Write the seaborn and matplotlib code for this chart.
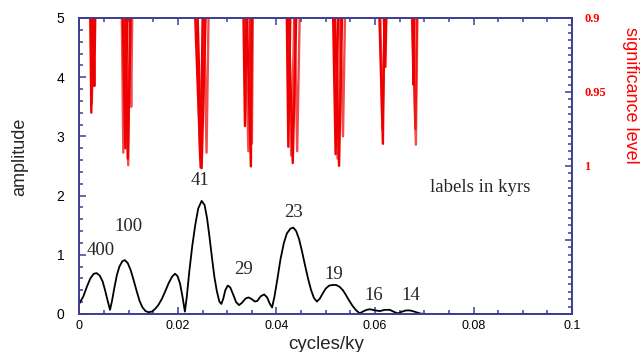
import matplotlib
matplotlib.use("Agg")
import matplotlib.pyplot as plt
from matplotlib.ticker import MultipleLocator
import pandas as pd
import seaborn as sns

# amplitude spectrum
freq = [0.0000, 0.0008, 0.0015, 0.0022, 0.0029, 0.0035, 0.0041, 0.0047, 0.0052, 0.0057,
        0.0062, 0.0066, 0.0071, 0.0076, 0.0081, 0.0087, 0.0092, 0.0098, 0.0104, 0.0110,
        0.0116, 0.0122, 0.0128, 0.0134, 0.0140, 0.0147, 0.0153, 0.0160, 0.0167, 0.0174,
        0.0181, 0.0188, 0.0194, 0.0199, 0.0204, 0.0209, 0.0214, 0.0218, 0.0223, 0.0229,
        0.0235, 0.0241, 0.0248, 0.0254, 0.0259, 0.0264, 0.0269, 0.0274, 0.0279, 0.0284,
        0.0288, 0.0292, 0.0296, 0.0301, 0.0306, 0.0312, 0.0318, 0.0324, 0.0330, 0.0337,
        0.0343, 0.0350, 0.0356, 0.0361, 0.0368, 0.0375, 0.0381, 0.0386, 0.0391, 0.0396,
        0.0402, 0.0408, 0.0415, 0.0421, 0.0428, 0.0434, 0.0440, 0.0446, 0.0452, 0.0458,
        0.0464, 0.0470, 0.0476, 0.0482, 0.0488, 0.0494, 0.0500, 0.0507, 0.0514, 0.0521,
        0.0528, 0.0535, 0.0541, 0.0548, 0.0555, 0.0562, 0.0569, 0.0575, 0.0583, 0.0590,
        0.0600, 0.0610, 0.0620, 0.0630, 0.0640, 0.0647, 0.0655, 0.0663, 0.0671, 0.0680,
        0.0691, 0.0700, 0.0800, 0.0900, 0.1000]
amp = [0.18, 0.30, 0.46, 0.60, 0.68, 0.69, 0.65, 0.55, 0.40, 0.23,
       0.07, 0.22, 0.45, 0.66, 0.80, 0.89, 0.91, 0.86, 0.74, 0.57,
       0.39, 0.22, 0.11, 0.05, 0.03, 0.04, 0.08, 0.15, 0.25, 0.38,
       0.52, 0.63, 0.68, 0.64, 0.52, 0.30, 0.04, 0.30, 0.72, 1.15,
       1.50, 1.78, 1.91, 1.84, 1.62, 1.30, 0.95, 0.62, 0.38, 0.21,
       0.17, 0.26, 0.40, 0.48, 0.45, 0.33, 0.20, 0.15, 0.19, 0.26,
       0.28, 0.25, 0.21, 0.22, 0.30, 0.33, 0.28, 0.18, 0.11, 0.30,
       0.60, 0.92, 1.20, 1.36, 1.44, 1.46, 1.40, 1.26, 1.05, 0.82,
       0.60, 0.41, 0.27, 0.21, 0.26, 0.35, 0.43, 0.48, 0.49, 0.49,
       0.46, 0.40, 0.32, 0.22, 0.13, 0.06, 0.01, 0.04, 0.07, 0.08,
       0.06, 0.05, 0.07, 0.07, 0.03, 0.01, 0.04, 0.06, 0.06, 0.04,
       0.01, 0.0, 0.0, 0.0, 0.0]

# significance strands: (x left, x bottom, x right) and the bottom level
sig_x = [
    [0.0022, 0.0024, 0.0027], [0.0023, 0.0025, 0.0029], [0.0028, 0.0030, 0.0032],
    [0.0086, 0.0089, 0.0092], [0.0088, 0.0093, 0.0097], [0.0090, 0.0099, 0.0102],
    [0.0094, 0.0098, 0.0104], [0.0103, 0.0105, 0.0107],
    [0.0235, 0.0246, 0.0250], [0.0238, 0.0245, 0.0253], [0.0240, 0.0248, 0.0256],
    [0.0253, 0.0258, 0.0262],
    [0.0333, 0.0336, 0.0339], [0.0336, 0.0343, 0.0347], [0.0340, 0.0348, 0.0350],
    [0.0345, 0.0350, 0.0352],
    [0.0421, 0.0424, 0.0428], [0.0423, 0.0430, 0.0436], [0.0425, 0.0433, 0.0440],
    [0.0437, 0.0442, 0.0447],
    [0.0515, 0.0520, 0.0525], [0.0517, 0.0524, 0.0530], [0.0519, 0.0527, 0.0533],
    [0.0530, 0.0535, 0.0539],
    [0.0609, 0.0616, 0.0619], [0.0611, 0.0615, 0.0620], [0.0618, 0.0621, 0.0623],
    [0.0675, 0.0683, 0.0686], [0.0676, 0.0678, 0.0680], [0.0678, 0.0682, 0.0685],
]
sig_min = [0.964, 0.958, 0.946,
           0.991, 0.988, 0.9995, 0.995, 0.960,
           1.001, 0.996, 1.0015, 0.991,
           0.973, 0.990, 1.0003, 0.985,
           0.987, 0.993, 0.998, 0.990,
           0.992, 0.995, 0.9999, 0.980,
           0.985, 0.975, 0.933,
           0.9856, 0.945, 0.975]

peak_labels = ["400", "100", "41", "29", "23", "19", "16", "14"]
peak_x = [0.0044, 0.0100, 0.0245, 0.0334, 0.0435, 0.0517, 0.0598, 0.0673]
peak_y = [1.08, 1.47, 2.26, 0.75, 1.71, 0.66, 0.31, 0.31]

sns.set_style("ticks")
plt.rcParams["font.family"] = ["Liberation Sans", "DejaVu Sans"]
navy = "#3c3c96"

fig = plt.figure(figsize=(6.42, 3.52), dpi=100)
ax = fig.add_axes([0.1238, 0.108, 0.7672, 0.8409])
ax2 = ax.twinx()

df = pd.DataFrame({"freq": freq, "amp": amp})
sns.lineplot(data=df, x="freq", y="amp", color="black", lw=1.3, ax=ax)

for i, (xs, lo) in enumerate(zip(sig_x, sig_min)):
    strand = pd.DataFrame({"freq": xs, "sig": [0.9, lo, 0.9]})
    sns.lineplot(data=strand, x="freq", y="sig", color="#ee0000", lw=1.7,
                 alpha=1.0 if i % 2 == 0 else 0.7, ax=ax2)

ax.set_xlim(0, 0.1)
ax.set_ylim(0, 5)
ax2.set_ylim(1.1, 0.9)

ax.xaxis.set_minor_locator(MultipleLocator(0.005))
ax.yaxis.set_major_locator(MultipleLocator(1))
ax.yaxis.set_minor_locator(MultipleLocator(0.2))
ax.set_xticks([0, 0.02, 0.04, 0.06, 0.08, 0.1], ["0", "0.02", "0.04", "0.06", "0.08", "0.1"])
ax.tick_params(axis="x", which="both", direction="in", top=True, colors=navy,
               labelcolor="black", labelsize=9, pad=4)
ax.tick_params(axis="y", which="both", direction="in", colors=navy,
               labelcolor="black", labelsize=10, pad=11)
ax.tick_params(which="major", length=5, width=1.1)
ax.tick_params(which="minor", length=3, width=1.1)

ax2.set_yticks([0.9, 0.95, 1.0, 1.05, 1.1], ["0.9", "0.95", "1", "", ""])
ax2.yaxis.set_minor_locator(MultipleLocator(0.005))
ax2.tick_params(axis="y", which="both", direction="in", colors=navy, labelcolor="red",
                labelsize=9, pad=9)
ax2.tick_params(which="major", length=5, width=1.1)
ax2.tick_params(which="minor", length=3, width=1.1)
for lab in ax2.get_yticklabels():
    lab.set_family("Liberation Serif")
    lab.set_weight("bold")

for a in (ax, ax2):
    for sp in a.spines.values():
        sp.set_color(navy)
        sp.set_linewidth(1.2)
        sp.set_visible(True)

ax.set_ylabel("")
ax2.set_ylabel("")
ax.set_xlabel("cycles/ky", fontsize=13.5, labelpad=3)
fig.text(0.031, 0.554, "amplitude", rotation=90, fontsize=13, ha="center", va="center")
fig.text(0.982, 0.729, "significance level", rotation=-90, fontsize=13, color="red",
         ha="center", va="center")

for t, x, y in zip(peak_labels, peak_x, peak_y):
    ax.text(x, y, t, fontsize=13.5, family="Liberation Serif", ha="center", va="center")
ax.text(0.0813, 2.14, "labels in kyrs", fontsize=13.5, family="Liberation Serif",
        ha="center", va="center")

fig.savefig("out.png", dpi=100)
